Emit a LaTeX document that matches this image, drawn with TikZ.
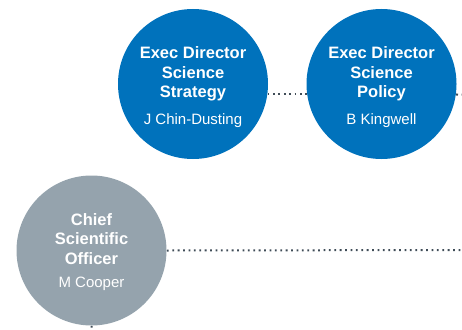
\documentclass[tikz,border=0pt]{standalone}
\usepackage{fontspec}
\setmainfont{Liberation Sans}
\usepackage{tikz}
\definecolor{csblue}{HTML}{0072BC}
\definecolor{csgrey}{HTML}{95A3AD}
\definecolor{dotgrey}{HTML}{3F4C57}

\begin{document}
\begin{tikzpicture}[x=1pt, y=-1pt, line width=0.3mm,
    person/.style={circle, minimum size=150pt, inner sep=0pt, text=white,
      align=center, font=\fontsize{16.5}{19.5}\selectfont},
    link/.style={dotgrey, line width=2pt, dash pattern=on 1.8pt off 3.6pt}]
    \useasboundingbox (0,0) rectangle (462,329);

    \node[person, fill=csblue](strat) at (193, 84)
      {\rule{0pt}{18pt}\textbf{Exec Director}\\\textbf{Science}\\\textbf{Strategy}\\[7pt]{\fontsize{15}{18}\selectfont J Chin-Dusting}};
    \node[person, fill=csblue](policy) at (381.5, 84)
      {\rule{0pt}{18pt}\textbf{Exec Director}\\\textbf{Science}\\\textbf{Policy}\\[7pt]{\fontsize{15}{18}\selectfont B Kingwell}};
    \node[person, fill=csgrey](cso) at (91.5, 250.5)
      {\rule{0pt}{15pt}\textbf{Chief}\\\textbf{Scientific}\\\textbf{Officer}\\[4pt]{\fontsize{15}{18}\selectfont M Cooper}};

    \coordinate(policyout) at (470, 95);
    \coordinate(csoout) at (470, 250);
    \coordinate(csodown) at (91.5, 340);

    \draw[link] (strat.-8) -- (policy.188);
    \draw[link] (policy.-8) -- (policyout);
    \draw[link] (cso.east) -- (csoout)
                (cso.south) -- (csodown);
\end{tikzpicture}
\end{document}
